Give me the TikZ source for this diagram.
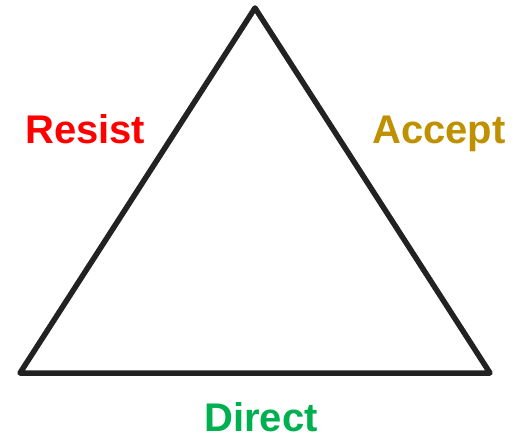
\documentclass[tikz,border=0pt]{standalone}
\usepackage{fontspec}
\setmainfont{Liberation Sans}
\usetikzlibrary{positioning}

\definecolor{resistred}{HTML}{FF0000}
\definecolor{acceptgold}{HTML}{BF9000}
\definecolor{directgreen}{HTML}{00B050}
\definecolor{edgegray}{HTML}{222222}

\begin{document}
\begin{tikzpicture}[
    x=1pt, y=1pt,
    % --- Styles ---
    side edge/.style={draw=edgegray, line width=5.5pt, line join=round, line cap=round},
    % Labels sit on their baseline
    side label/.style={font=\fontsize{40}{44}\selectfont\bfseries, inner sep=0pt, text depth=0pt}
]

%================CONFIGURATION================
\def\picw{521}
\def\pich{439}
%=============================================

\useasboundingbox (0,0) rectangle (\picw,\pich);

% Corners of the triangle
\coordinate (apex)  at (255, 431);
\coordinate (left)  at (20, 66);
\coordinate (right) at (490, 66);

\draw[side edge] (apex) -- (left) -- (right) -- cycle;

% --- Labels ---
\node[side label, text=resistred, anchor=base west] (resist) at (25, 295) {Resist};
\node[side label, text=acceptgold, anchor=base west] (accept) at (372, 295) {Accept};
\node[side label, text=directgreen, anchor=base] (direct) at (261, 8) {Direct};

\end{tikzpicture}
\end{document}
